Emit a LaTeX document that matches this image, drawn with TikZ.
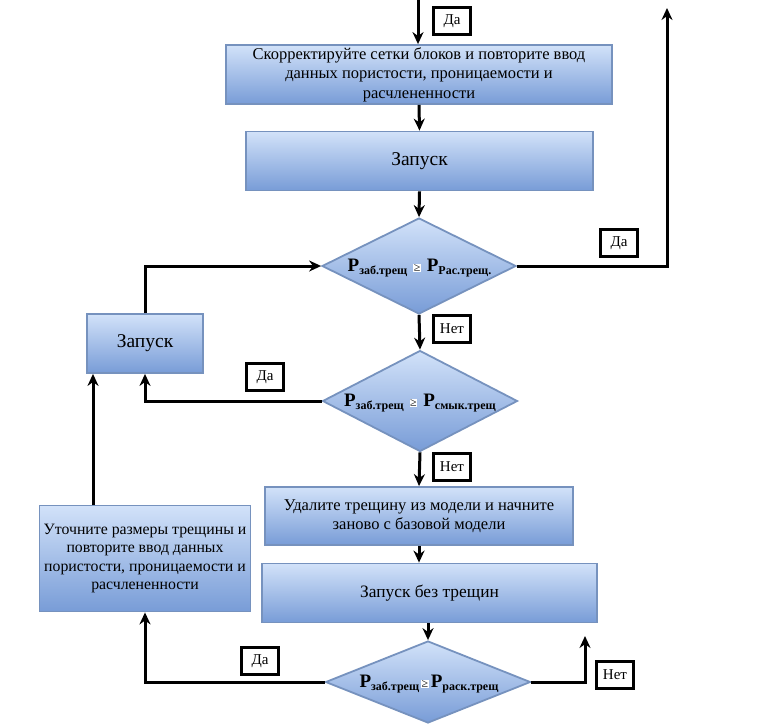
\documentclass[tikz,border=0pt]{standalone}
\usepackage{fontspec}
\setmainfont{Liberation Serif}
\usetikzlibrary{arrows.meta,shapes.geometric}
\definecolor{boxtop}{RGB}{210,226,249}
\definecolor{boxbot}{RGB}{120,156,215}
\definecolor{boxline}{RGB}{118,146,190}
\newcommand\condtext[3]{{\fontsize{19}{19}\selectfont\bfseries P}\raisebox{-3pt}{\fontsize{12}{12}\selectfont\bfseries #1}\hspace{#3}{\setlength\fboxsep{0.5pt}\colorbox{white}{\fontsize{12}{12}\selectfont ≥}}\hspace{#3}{\fontsize{19}{19}\selectfont\bfseries P}\raisebox{-3pt}{\fontsize{12}{12}\selectfont\bfseries #2}}
\begin{document}
\begin{tikzpicture}[x=1pt,y=-1pt,
  procbox/.style={draw=boxline, line width=1.8pt, top color=boxtop, bottom color=boxbot, inner sep=0pt, align=center, font=\fontsize{16.5}{19.5}\selectfont},
  decbox/.style={diamond, draw=boxline, line width=1.8pt, top color=boxtop, bottom color=boxbot, inner sep=0pt},
  tag/.style={draw=black, line width=2.6pt, fill=white, minimum width=37pt, minimum height=27pt, inner sep=0pt, font=\fontsize{15}{15}\selectfont},
  arr/.style={line width=3pt, -{Stealth[length=12pt,width=11pt]}},
]
\useasboundingbox (0,0) rectangle (778,724);

% process boxes
\node[procbox, minimum width=386pt, minimum height=59pt] (b1) at (419,74.5)
  {Скорректируйте сетки блоков и повторите ввод\\данных пористости, проницаемости и\\расчлененности};
\node[procbox, minimum width=347pt, minimum height=59pt, font=\fontsize{19.5}{19.5}\selectfont] (b2) at (419.5,161) {Запуск};
\node[procbox, minimum width=116pt, minimum height=59pt, font=\fontsize{19.5}{19.5}\selectfont] (run2) at (145,343.5) {Запуск};
\node[procbox, minimum width=308pt, minimum height=58pt] (del) at (419,516)
  {Удалите трещину из модели и начните\\заново с базовой модели};
\node[procbox, minimum width=335pt, minimum height=59pt, font=\fontsize{17.4}{17.4}\selectfont] (nocr) at (429.5,593) {Запуск без трещин};
\node[procbox, minimum width=211pt, minimum height=106pt, font=\fontsize{15.8}{18.5}\selectfont] (refine) at (145,558.5)
  {Уточните размеры трещины и\\повторите ввод данных\\пористости, проницаемости и\\расчлененности};

% decisions
\node[decbox, minimum width=194pt, minimum height=96pt] (d1) at (419,266) {};
\node (t1) at (419.5,268) {\condtext{заб.трещ}{Рас.трещ.}{6pt}};
\node[decbox, minimum width=195pt, minimum height=101pt] (d2) at (420,401) {};
\node (t2) at (420,403) {\condtext{заб.трещ}{смык.трещ}{6pt}};
\node[decbox, minimum width=205pt, minimum height=82pt] (d3) at (428,682) {};
\node (t3) at (429,684) {\condtext{заб.трещ}{раск.трещ}{2pt}};

% helper coordinates
\coordinate (top0) at (418,0);
\coordinate (up1) at (667,8);
\coordinate (up3) at (585,636);

% connectors
\draw[arr] (top0) -- (top0 |- b1.north);
\draw[arr] (b1.south) -- (b2.north);
\draw[arr] (b2.south) -- (d1.north);
\draw[arr] (d1.east) -| (up1);
\draw[arr] (d1.south) -- (d2.north);
\draw[arr] (d2.west) -| (run2.south);
\draw[arr] (run2.north) |- (d1.west);
\draw[arr] (d2.south) -- (del.north);
\draw[arr] (del.south) -- (del.south |- nocr.north);
\draw[arr] (d3.north |- nocr.south) -- (d3.north);
\draw[arr] (d3.west) -| (refine.south);
\draw[arr] (d3.east) -| (up3);
\draw[arr] ([xshift=-52pt]refine.north) -- ([xshift=-52pt]refine.north |- run2.south);

% tags
\node[tag] (y1) at (452,21) {Да};
\node[tag] (y2) at (619,243) {Да};
\node[tag] (n1) at (452,329) {Нет};
\node[tag] (y3) at (265,377) {Да};
\node[tag] (n2) at (452,467) {Нет};
\node[tag] (y4) at (260,661) {Да};
\node[tag] (n3) at (615,675) {Нет};
\end{tikzpicture}
\end{document}
